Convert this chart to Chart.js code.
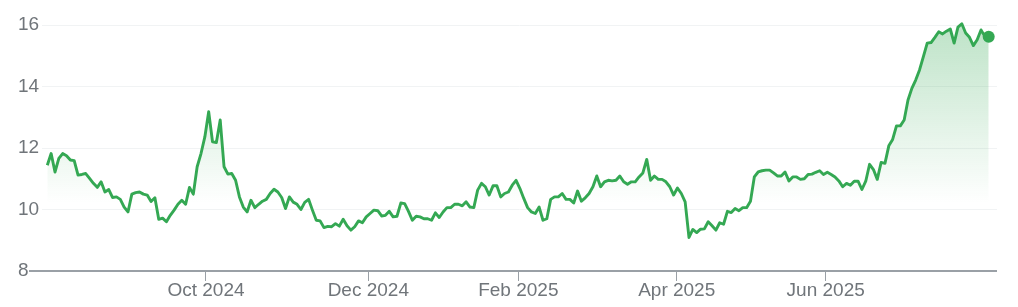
<!DOCTYPE html>
<html>
<head>
<meta charset="utf-8">
<script src="https://cdn.jsdelivr.net/npm/chart.js@4.4.1/dist/chart.umd.min.js"></script>
<style>
  html, body { margin: 0; padding: 0; background: #fff; }
  #wrap { width: 1018px; height: 307px; }
</style>
</head>
<body>
<div id="wrap"><canvas id="myChart"></canvas></div>
<script>
// daily closing values, left to right
const prices = [
  11.44, 11.82, 11.22, 11.66, 11.82, 11.75, 11.61, 11.59, 11.12, 11.14,
  11.17, 11.01, 10.85, 10.72, 10.90, 10.57, 10.65, 10.39, 10.41, 10.33,
  10.08, 9.92, 10.50, 10.55, 10.57, 10.50, 10.47, 10.26, 10.38, 9.68,
  9.72, 9.60, 9.81, 9.98, 10.17, 10.30, 10.17, 10.72, 10.50, 11.39,
  11.82, 12.36, 13.18, 12.20, 12.18, 12.91, 11.39, 11.15, 11.17, 10.95,
  10.41, 10.08, 9.92, 10.30, 10.06, 10.17, 10.27, 10.33, 10.52, 10.66,
  10.57, 10.39, 10.03, 10.41, 10.24, 10.17, 10.00, 10.23, 10.33, 9.98,
  9.65, 9.63, 9.41, 9.45, 9.44, 9.54, 9.46, 9.68, 9.47, 9.33,
  9.44, 9.63, 9.57, 9.76, 9.87, 9.98, 9.96, 9.79, 9.81, 9.94,
  9.76, 9.78, 10.21, 10.19, 9.94, 9.65, 9.78, 9.76, 9.70, 9.70,
  9.65, 9.89, 9.74, 9.92, 10.06, 10.06, 10.17, 10.17, 10.12, 10.25,
  10.08, 10.06, 10.63, 10.85, 10.74, 10.47, 10.77, 10.77, 10.41, 10.52,
  10.57, 10.79, 10.95, 10.68, 10.36, 10.06, 9.92, 9.87, 10.08, 9.65,
  9.70, 10.33, 10.41, 10.41, 10.52, 10.33, 10.33, 10.21, 10.60, 10.27,
  10.38, 10.52, 10.74, 11.09, 10.74, 10.90, 10.95, 10.93, 10.95, 11.09,
  10.90, 10.82, 10.90, 10.90, 11.06, 11.19, 11.63, 10.95, 11.09, 10.98,
  10.98, 10.90, 10.74, 10.47, 10.70, 10.52, 10.25, 9.09, 9.35, 9.25,
  9.36, 9.37, 9.60, 9.47, 9.33, 9.57, 9.52, 9.94, 9.90, 10.03,
  9.96, 10.06, 10.06, 10.27, 11.06, 11.22, 11.26, 11.28, 11.28, 11.19,
  11.09, 11.09, 11.22, 10.93, 11.06, 11.06, 10.98, 11.00, 11.14, 11.15,
  11.21, 11.26, 11.14, 11.21, 11.14, 11.06, 10.93, 10.74, 10.85, 10.79,
  10.92, 10.92, 10.65, 10.92, 11.47, 11.30, 10.98, 11.53, 11.50, 12.07,
  12.28, 12.72, 12.72, 12.91, 13.56, 13.94, 14.21, 14.54, 14.97, 15.41,
  15.43, 15.60, 15.78, 15.71, 15.80, 15.87, 15.41, 15.93, 16.04, 15.74,
  15.60, 15.33, 15.52, 15.84, 15.63, 15.62
];

// month labels and where they fall along the series (point index)
const tickLabels = ["Oct 2024", "Dec 2024", "Feb 2025", "Apr 2025", "Jun 2025"];
const tickIndex = [41.3, 83.54, 122.58, 163.8, 202.58];
const yTicks = [8, 10, 12, 14, 16];

const green = "#34a853";
const axisGray = "#9aa0a6";
const lastIndex = prices.length - 1;

const info = {
    datasets: [
        {
            data: prices.map((v, i) => ({ x: i, y: v })),
            borderColor: green,
            borderWidth: 2.9,
            borderJoinStyle: "round",
            tension: 0,
            clip: false,
            fill: "start",
            backgroundColor: (ctx) => {
                const chart = ctx.chart;
                const area = chart.chartArea;
                if (!area) return "rgba(52,168,83,0.1)";
                const yScale = chart.scales.y;
                const g = chart.ctx.createLinearGradient(0, area.top, 0, yScale.getPixelForValue(10.2));
                g.addColorStop(0, "rgba(52,168,83,0.32)");
                g.addColorStop(1, "rgba(52,168,83,0)");
                return g;
            },
            pointRadius: (ctx) => ctx.dataIndex === lastIndex ? 6 : 0,
            pointHoverRadius: 0,
            pointBackgroundColor: green,
            pointBorderWidth: 0
        }
    ]
};

const options = {
    animation: false,
    responsive: true,
    maintainAspectRatio: false,
    devicePixelRatio: 1,
    layout: { padding: { left: 18, top: 25, right: 21, bottom: 0 } },
    scales: {
        x: {
            type: "linear",
            min: -1.38,
            max: 247.16,
            afterBuildTicks: (scale) => {
                scale.ticks = tickIndex.map((v) => ({ value: v }));
            },
            afterFit: (scale) => { scale.height = 36; },
            ticks: {
                callback: (value) => tickLabels[tickIndex.indexOf(value)],
                autoSkip: false,
                maxRotation: 0,
                padding: -2,
                color: "#70757a",
                font: { family: "'Liberation Sans', Arial, sans-serif", size: 19 }
            },
            grid: {
                drawOnChartArea: false,
                drawTicks: true,
                tickLength: 10,
                color: axisGray,
                lineWidth: 1
            },
            border: { display: false }
        },
        y: {
            min: 8,
            max: 16,
            afterBuildTicks: (scale) => {
                scale.ticks = yTicks.map((v) => ({ value: v }));
            },
            afterFit: (scale) => { scale.width = 24; },
            ticks: {
                crossAlign: "far",
                color: "#70757a",
                font: { family: "'Liberation Sans', Arial, sans-serif", size: 19 }
            },
            grid: {
                tickLength: 13,
                color: (ctx) => ctx.tick && ctx.tick.value === 8 ? axisGray : "#f1f3f4",
                tickColor: (ctx) => ctx.tick && ctx.tick.value === 8 ? axisGray : "rgba(0,0,0,0)",
                lineWidth: (ctx) => ctx.tick && ctx.tick.value === 8 ? 2 : 1
            },
            border: { display: false }
        }
    },
    plugins: {
        legend: { display: false },
        tooltip: { enabled: false }
    }
};

const myChart = new Chart(document.getElementById("myChart"), {
    type: "line",
    data: info,
    options
});
</script>
</body>
</html>
